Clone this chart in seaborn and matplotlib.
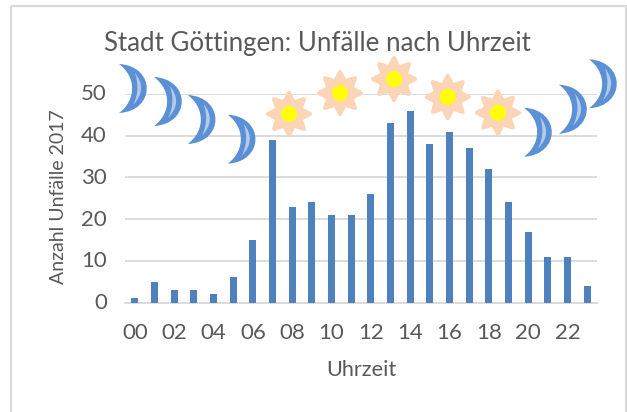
import numpy as np
import seaborn as sns
import matplotlib.pyplot as plt
from matplotlib.patches import Circle, PathPatch, Polygon, Rectangle
from matplotlib.path import Path
from matplotlib.transforms import Affine2D

# accidents per hour
hours = ['%02d' % h for h in range(24)]
accidents = [1, 5, 3, 3, 2, 6, 15, 39, 23, 24, 21, 21, 26, 43, 46, 38, 41, 37, 32, 24, 17, 11, 11, 4]

title = 'Stadt Göttingen: Unfälle nach Uhrzeit'
xlabel = 'Uhrzeit'
ylabel = 'Anzahl Unfälle 2017'

grey = '#595959'
grid = '#D9D9D9'

sns.set_theme(style='white')
plt.rcParams['font.family'] = ['Lato', 'DejaVu Sans']

fig = plt.figure(figsize=(6.27, 4.12), dpi=100)
W, H = 627, 412
ax = fig.add_axes([125 / W, (H - 302.5) / H, 472 / W, 208.5 / H])

sns.barplot(x=hours, y=accidents, color='#4F81BD', saturation=1, width=0.34, linewidth=0, ax=ax, zorder=3)

ax.set_xlim(-0.5, 23.5)
ax.set_ylim(0, 50)
ax.set_yticks([0, 10, 20, 30, 40, 50])
ax.set_xticks(range(0, 24, 2))
ax.set_xticklabels(hours[::2])
ax.set_xlabel('')
ax.tick_params(axis='both', length=0, labelsize=16, labelcolor=grey)
ax.tick_params(axis='x', pad=14.5)
ax.tick_params(axis='y', pad=13)
ax.grid(axis='y', color=grid, linewidth=1.3, zorder=0)
ax.set_axisbelow(True)
for s in ['top', 'left', 'right']:
    ax.spines[s].set_visible(False)
ax.spines['bottom'].set_color(grid)
ax.spines['bottom'].set_linewidth(1.3)

# y labels sit a little above their gridlines
for lab in ax.get_yticklabels():
    lab.set_transform(lab.get_transform() + Affine2D().translate(0, 1.5))

# text in pixel positions of the reference
px = Affine2D().scale(1, -1).translate(0, H)
fig.text(317.5 / W, 1 - 43 / H, title, color=grey, fontsize=18.6, ha='center', va='center')
fig.text(361 / W, 1 - 370 / H, xlabel, color=grey, fontsize=15.6, ha='center', va='center')
fig.text(59 / W, 1 - 197 / H, ylabel, color=grey, fontsize=14, ha='center', va='center', rotation=90)

# chart frame
fig.add_artist(Rectangle((11, 6), 615, 420, transform=px, fill=False, edgecolor=grid, linewidth=1.5))


def moon(x, y):
    # crescent, x/y is the upper tip
    verts = [(x, y), (x + 37, y + 2), (x + 37, y + 47), (x, y + 49),
             (x + 17.5, y + 36), (x + 17.5, y + 13), (x, y)]
    codes = [Path.MOVETO] + [Path.CURVE4] * 6
    fig.add_artist(PathPatch(Path(verts, codes), transform=px, facecolor='#5B8FD6', edgecolor='none', zorder=5))
    verts = [(x + 16, y + 9), (x + 24.5, y + 20), (x + 24.5, y + 30), (x + 14, y + 41),
             (x + 19.5, y + 30), (x + 19.5, y + 20), (x + 16, y + 9)]
    fig.add_artist(PathPatch(Path(verts, codes), transform=px, facecolor='#B4CBE8', edgecolor='none', zorder=6))


def sun(x, y):
    ang = np.arange(16) * np.pi / 8 - np.pi / 2
    rad = np.where(np.arange(16) % 2 == 0, 21, 12.5)
    pts = np.column_stack([x + rad * np.cos(ang), y + rad * np.sin(ang)])
    fig.add_artist(Polygon(pts, closed=True, transform=px, facecolor='#FBD5B5', edgecolor='#FBD5B5',
                           linewidth=3, joinstyle='round', zorder=5))
    fig.add_artist(Circle((x, y), 8, transform=px, facecolor='#FFFF00', edgecolor='none', zorder=6))


for x, y in [(119, 64), (154, 77), (187.7, 95), (227.7, 114.7), (524, 107.7), (559, 84.7), (589, 59.3)]:
    moon(x, y)
for x, y in [(289, 114), (340, 93), (394, 79), (447.7, 97), (498, 112.7)]:
    sun(x, y)

plt.savefig('out.png', dpi=100)
